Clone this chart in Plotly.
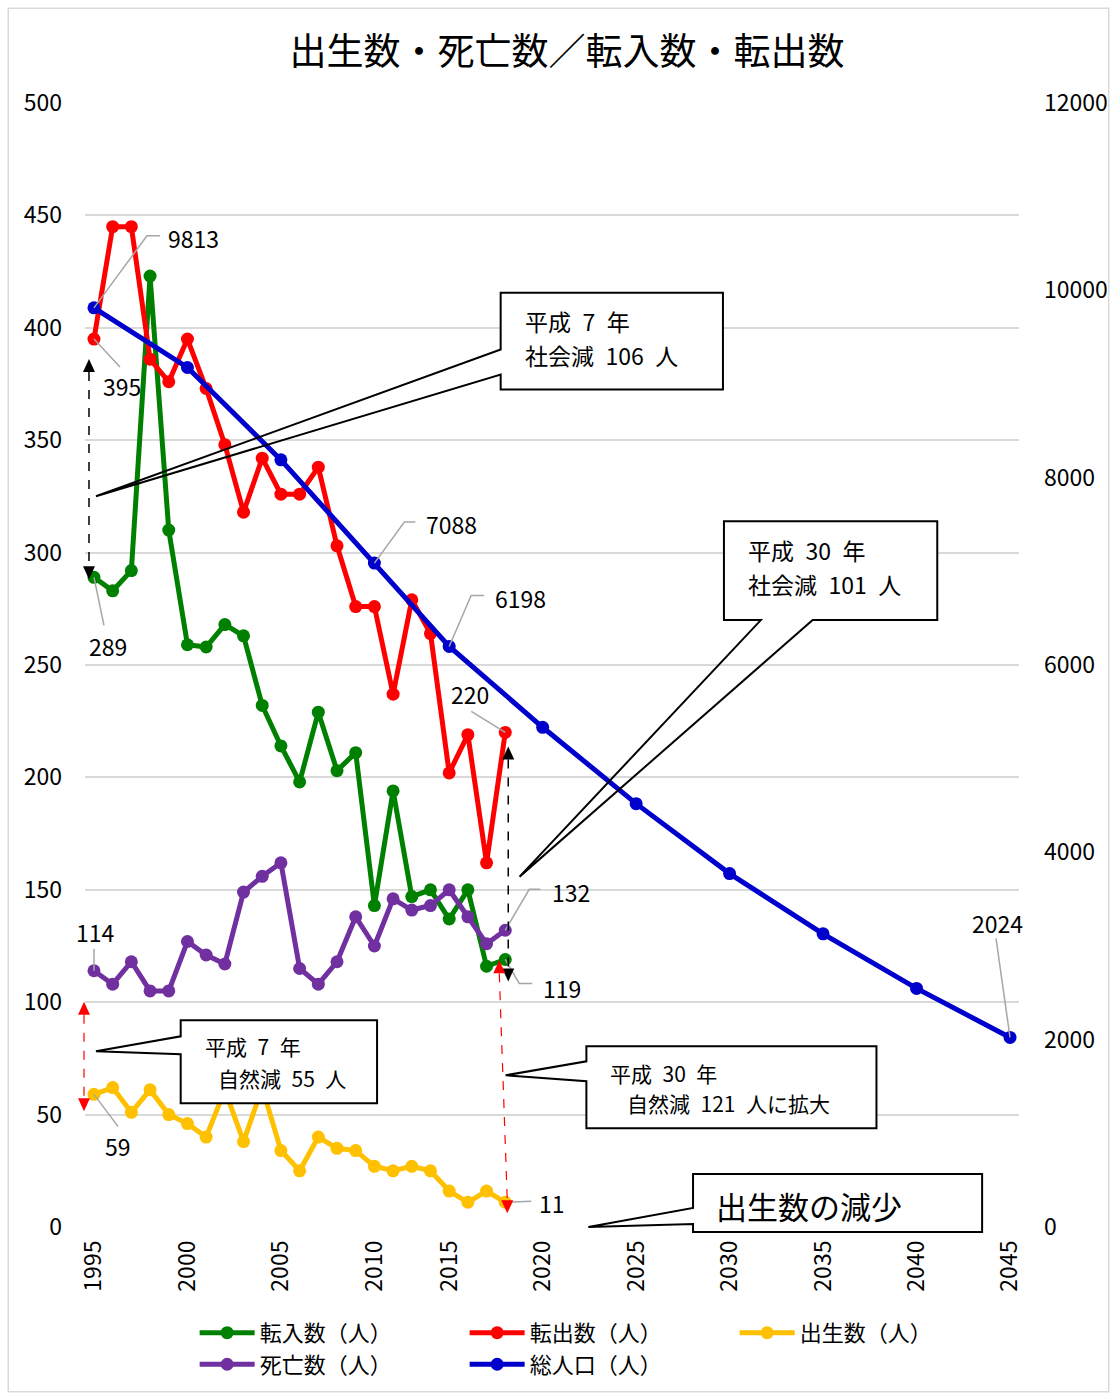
import plotly.graph_objects as go

# ---------------------------------------------------------------------------
# Data
# ---------------------------------------------------------------------------
# Category axis positions (annual through 2010, then from 2012 onward)
CATEGORIES = [str(y) for y in range(1995, 2011)] + [str(y) for y in range(2012, 2046)]
TICK_YEARS = [str(y) for y in range(1995, 2046, 5)]

ANNUAL_YEARS = [str(y) for y in range(1995, 2011)] + [str(y) for y in range(2012, 2019)]
TRANSFER_IN = [289, 283, 292, 423, 310, 259, 258, 268, 263, 232, 214, 198,
               229, 203, 211, 143, 194, 147, 150, 137, 150, 116, 119]
TRANSFER_OUT = [395, 445, 445, 386, 376, 395, 373, 348, 318, 342, 326, 326,
                338, 303, 276, 276, 237, 279, 264, 202, 219, 162, 220]
BIRTHS = [59, 62, 51, 61, 50, 46, 40, 61, 38, 62, 34, 25,
          40, 35, 34, 27, 25, 27, 25, 16, 11, 16, 11]
DEATHS = [114, 108, 118, 105, 105, 127, 121, 117, 149, 156, 162, 115,
          108, 118, 138, 125, 146, 141, 143, 150, 138, 126, 132]

POP_YEARS = [str(y) for y in range(1995, 2046, 5)]
POPULATION = [9813, 9176, 8190, 7088, 6198, 5335, 4520, 3773, 3130, 2547, 2024]

SERIES_NAMES = ["転入数（人）", "転出数（人）", "出生数（人）", "死亡数（人）", "総人口（人）"]
TITLE = "出生数・死亡数／転入数・転出数"

LEFT_MAX, LEFT_STEP = 500, 50
RIGHT_MAX, RIGHT_STEP = 12000, 2000

# ---------------------------------------------------------------------------
# Layout geometry / styles
# ---------------------------------------------------------------------------
W, H = 1120, 1398
PL, PR, PT, PB = 85, 1022, 103, 1229          # plot area edges in px
PLOT_W, PLOT_H = PR - PL, PB - PT
CAT_PAD = 0.48                                 # half-gap at both ends of the category axis
PX_PER_UNIT = PLOT_H / LEFT_MAX
PX_PER_CAT = PLOT_W / (len(CATEGORIES) - 1 + 2 * CAT_PAD)

NUM_FONT = "Noto Sans CJK JP, sans-serif"
JP_FONT = "Noto Sans CJK JP, sans-serif"
NUM_SIZE = 23
SP = "\u2002"   # en space between words in the callouts

GREEN, RED, YELLOW, PURPLE, BLUE = "#008000", "#FF0000", "#FFC000", "#7030A0", "#0000CC"
GRID = "#D9D9D9"
LEADER = "#A6A6A6"


def cat_pos(year):
    """serial position of a year on the category axis"""
    return CATEGORIES.index(year)


def pxp(x):
    """pixel x -> paper x"""
    return (x - PL) / PLOT_W


def pyp(y):
    """pixel y -> paper y"""
    return (PB - y) / PLOT_H


def year_px(year):
    return PL + (cat_pos(year) + CAT_PAD) * PX_PER_CAT


def left_val_px(v):
    return PB - v * PX_PER_UNIT


fig = go.Figure()

line_w, mk = 5, 13
for name, ys, color in [
    (SERIES_NAMES[0], TRANSFER_IN, GREEN),
    (SERIES_NAMES[1], TRANSFER_OUT, RED),
    (SERIES_NAMES[2], BIRTHS, YELLOW),
    (SERIES_NAMES[3], DEATHS, PURPLE),
]:
    fig.add_trace(go.Scatter(
        x=ANNUAL_YEARS, y=ys, name=name, mode="lines+markers",
        line=dict(color=color, width=line_w),
        marker=dict(color=color, size=mk),
        yaxis="y", hoverinfo="skip",
    ))

fig.add_trace(go.Scatter(
    x=POP_YEARS, y=POPULATION, name=SERIES_NAMES[4], mode="lines+markers",
    line=dict(color=BLUE, width=line_w),
    marker=dict(color=BLUE, size=mk),
    yaxis="y2", hoverinfo="skip",
))

shapes = []
annotations = []

# outer frame of the chart area
shapes.append(dict(type="rect", xref="paper", yref="paper",
                   x0=pxp(8), x1=pxp(1112), y0=pyp(8), y1=pyp(1394),
                   line=dict(color=GRID, width=1.5), layer="below"))


# --- value labels with leader lines ----------------------------------------
def value_label(year, val, yref, leader, tx, ty):
    """leader: list of (dx, dy) px offsets from the point (dy up);
    (tx, ty): text centre offset in px (dy up)."""
    xc = cat_pos(year)
    path = "M 0,0 " + " ".join(f"L {dx},{dy}" for dx, dy in leader)
    shapes.append(dict(type="path", xref="x", yref=yref,
                       xsizemode="pixel", ysizemode="pixel",
                       xanchor=xc, yanchor=val, path=path,
                       line=dict(color=LEADER, width=1.5)))
    annotations.append(dict(x=xc, y=val, xref="x", yref=yref, text=str(val),
                            showarrow=False, xshift=tx, yshift=ty,
                            font=dict(family=NUM_FONT, size=NUM_SIZE, color="#000")))


value_label(POP_YEARS[0], POPULATION[0], "y2", [(53, 72), (66, 72)], 100, 70)
value_label(ANNUAL_YEARS[0], TRANSFER_OUT[0], "y", [(26, -28)], 28, -47)
value_label(ANNUAL_YEARS[0], TRANSFER_IN[0], "y", [(10, -48)], 14, -69)
value_label(POP_YEARS[3], POPULATION[3], "y2", [(30, 41), (41, 41)], 77, 39)
value_label(POP_YEARS[4], POPULATION[4], "y2", [(22, 51), (35, 51)], 71, 48)
value_label(ANNUAL_YEARS[-1], TRANSFER_OUT[-1], "y", [(-34, 21)], -35, 38)
value_label(ANNUAL_YEARS[0], DEATHS[0], "y", [(0, 22)], 2, 39)
value_label(ANNUAL_YEARS[-1], DEATHS[-1], "y", [(24, 41), (35, 41)], 66, 38)
value_label(ANNUAL_YEARS[-1], TRANSFER_IN[-1], "y", [(14, -24), (27, -24)], 57, -29)
value_label(ANNUAL_YEARS[0], BIRTHS[0], "y", [(24, -32)], 24, -52)
value_label(ANNUAL_YEARS[-1], BIRTHS[-1], "y", [(26, 1)], 47, -1)
value_label(POP_YEARS[-1], POPULATION[-1], "y2", [(-14, 99)], -13, 114)


# --- dashed difference arrows (paper coords so they may leave the plot area) --
HEAD_W, HEAD_H = 12, 13


def head(x_tip, y_tip, up, color):
    yb = y_tip + HEAD_H if up else y_tip - HEAD_H
    pts = [(x_tip, y_tip), (x_tip - HEAD_W / 2, yb), (x_tip + HEAD_W / 2, yb)]
    path = "M " + " L ".join(f"{pxp(a):.5f},{pyp(b):.5f}" for a, b in pts) + " Z"
    shapes.append(dict(type="path", xref="paper", yref="paper", path=path,
                       fillcolor=color, line=dict(color=color, width=0)))


def diff_arrow(year, v_top, v_bot, dx_top, dx_bot, gap_top, gap_bot, color, width):
    """gap_top: px the upper tip sits below v_top; gap_bot: px the lower tip sits above v_bot."""
    x0 = year_px(year)
    xt, yt = x0 + dx_top, left_val_px(v_top) + gap_top
    xb, yb = x0 + dx_bot, left_val_px(v_bot) - gap_bot
    shapes.append(dict(type="line", xref="paper", yref="paper",
                       x0=pxp(xt), y0=pyp(yt + HEAD_H), x1=pxp(xb), y1=pyp(yb - HEAD_H),
                       line=dict(color=color, width=width, dash="dash")))
    head(xt, yt, True, color)
    head(xb, yb, False, color)


diff_arrow(ANNUAL_YEARS[0], TRANSFER_OUT[0], TRANSFER_IN[0], -5, -5, 20, -2, "#000", 1.5)
diff_arrow(ANNUAL_YEARS[-1], TRANSFER_OUT[-1], TRANSFER_IN[-1], 3, 3, 14, -22, "#000", 1.5)
diff_arrow(ANNUAL_YEARS[0], DEATHS[0], BIRTHS[0], -10, -10, 31, -17, RED, 1.2)
diff_arrow(ANNUAL_YEARS[-1], DEATHS[-1], BIRTHS[-1], -6, 2, 30, -11, RED, 1.2)


# --- callout boxes ------------------------------------------------------------
def callout(x0, y0, x1, y1, side, b0, b1, tip, lines):
    shapes.append(dict(type="rect", xref="paper", yref="paper",
                       x0=pxp(x0), x1=pxp(x1), y0=pyp(y0), y1=pyp(y1),
                       fillcolor="white", line=dict(width=0)))
    if side == "left":
        pts = [(x0, b0), (x0, y0), (x1, y0), (x1, y1), (x0, y1), (x0, b1), tip]
    else:  # bottom
        pts = [(b0, y1), (x0, y1), (x0, y0), (x1, y0), (x1, y1), (b1, y1), tip]
    path = "M " + " L ".join(f"{pxp(a):.5f},{pyp(b):.5f}" for a, b in pts) + " Z"
    shapes.append(dict(type="path", xref="paper", yref="paper", path=path,
                       fillcolor="rgba(0,0,0,0)", line=dict(color="#000", width=2)))
    for text, tx, ty, size in lines:
        annotations.append(dict(xref="paper", yref="paper", x=pxp(tx), y=pyp(ty),
                                xanchor="left", yanchor="middle", text=text,
                                showarrow=False,
                                font=dict(family=JP_FONT, size=size, color="#000")))


callout(502, 293, 725, 390, "left", 350, 375, (96, 497),
        [(f"平成{SP}7{SP}年", 524, 321, 23), (f"社会減{SP}106{SP}人", 524, 355, 23)])
callout(726, 522, 940, 621, "bottom", 763, 815, (521, 878),
        [(f"平成{SP}30{SP}年", 748, 551, 23), (f"社会減{SP}101{SP}人", 748, 585, 23)])
callout(181, 1022, 378, 1105, "left", 1038, 1056, (96, 1053),
        [(f"平成{SP}7{SP}年", 203, 1048, 21), (f"自然減{SP}55{SP}人", 216, 1080, 21)])
callout(588, 1048, 879, 1130, "left", 1063, 1083, (507, 1077),
        [(f"平成{SP}30{SP}年", 610, 1075, 21), (f"自然減{SP}121{SP}人に拡大", 627, 1105, 21)])
callout(695, 1176, 985, 1234, "left", 1210, 1226, (590, 1229),
        [("出生数の減少", 716, 1207, 31)])

fig.update_layout(
    width=W, height=H,
    margin=dict(l=PL, r=W - PR, t=PT, b=H - PB, pad=0),
    paper_bgcolor="white", plot_bgcolor="white",
    title=dict(text=TITLE, x=567 / W, xanchor="center", xref="container",
               y=1 - 52 / H, yanchor="middle", yref="container",
               font=dict(family=JP_FONT, size=37, color="#000")),
    xaxis=dict(type="category", categoryorder="array", categoryarray=CATEGORIES,
               range=[-CAT_PAD, len(CATEGORIES) - 1 + CAT_PAD],
               tickmode="array", tickvals=TICK_YEARS, ticktext=TICK_YEARS,
               tickangle=-90, showgrid=False, zeroline=False, showline=False,
               ticks="", ticklabelstandoff=8,
               tickfont=dict(family=NUM_FONT, size=NUM_SIZE, color="#000")),
    yaxis=dict(range=[0, LEFT_MAX], dtick=LEFT_STEP, tick0=0,
               showgrid=True, gridcolor=GRID, gridwidth=1.5,
               zeroline=False, showline=False, ticks="", ticklabelstandoff=22,
               tickfont=dict(family=NUM_FONT, size=NUM_SIZE, color="#000")),
    yaxis2=dict(range=[0, RIGHT_MAX], dtick=RIGHT_STEP, tick0=0, overlaying="y",
                side="right", showgrid=False, zeroline=False, showline=False,
                ticks="", ticklabelstandoff=24, tickformat="d",
                tickfont=dict(family=NUM_FONT, size=NUM_SIZE, color="#000")),
    legend=dict(orientation="h", x=pxp(195), y=pyp(1314), xanchor="left", yanchor="top",
                itemwidth=55, entrywidth=200, traceorder="normal",
                font=dict(family=JP_FONT, size=22, color="#000"),
                bgcolor="rgba(0,0,0,0)"),
    shapes=shapes,
    annotations=annotations,
    showlegend=True,
)

fig.write_html("out.html")
